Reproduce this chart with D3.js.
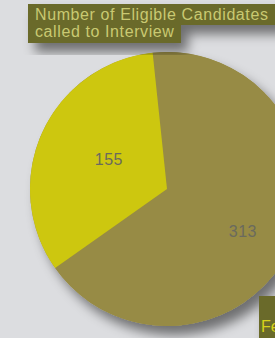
<!DOCTYPE html>
<html>
<head>
<meta charset="utf-8">
<script src="https://cdn.jsdelivr.net/npm/d3@7"></script>
<style>
  body { margin: 0; background: #dcdde0; overflow: hidden; }
  svg { display: block; }
</style>
</head>
<body>
<div id="chart"></div>
<script>
// chart data
var categories = ["Not called", "Called to Interview"];
var values = [313, 155];
var colors = ["#978b45", "#cdc70f"];
var titleLines = ["Number of  Eligible Candidates", "called to Interview"];

var width = 275, height = 338;
var cx = 167, cy = 189, radius = 137;
// where each value label sits, as fraction of radius, plus a small nudge
var labelRadius = [0.64, 0.49];
var labelNudge = [[-4, 6], [3, -1.5]];

var svg = d3.select("#chart").append("svg")
  .attr("width", width)
  .attr("height", height);

var defs = svg.append("defs");
var shadow = defs.append("filter")
  .attr("id", "shadow")
  .attr("x", "-30%").attr("y", "-30%")
  .attr("width", "160%").attr("height", "160%");
shadow.append("feGaussianBlur").attr("in", "SourceAlpha").attr("stdDeviation", 6);
shadow.append("feOffset").attr("dx", 7).attr("dy", 9).attr("result", "off");
shadow.append("feComponentTransfer").append("feFuncA").attr("type", "linear").attr("slope", 0.5);
var merge = shadow.append("feMerge");
merge.append("feMergeNode");
merge.append("feMergeNode").attr("in", "SourceGraphic");

// pie
var pie = d3.pie()
  .sort(null)
  .startAngle(-0.105)
  .endAngle(2 * Math.PI - 0.105);

var arc = d3.arc().innerRadius(0).outerRadius(radius);

var g = svg.append("g")
  .attr("transform", "translate(" + cx + "," + cy + ")");

g.append("circle")
  .attr("r", radius)
  .attr("fill", colors[0])
  .attr("filter", "url(#shadow)");

g.selectAll("path.slice")
  .data(pie(values))
  .enter().append("path")
  .attr("class", "slice")
  .attr("d", arc)
  .attr("fill", function(d, i) { return colors[i]; });

g.selectAll("text.val")
  .data(pie(values))
  .enter().append("text")
  .attr("class", "val")
  .attr("transform", function(d, i) {
    var r = radius * labelRadius[i];
    var c = d3.arc().innerRadius(r).outerRadius(r).centroid(d);
    return "translate(" + (c[0] + labelNudge[i][0]) + "," + (c[1] + labelNudge[i][1]) + ")";
  })
  .attr("text-anchor", "middle")
  .attr("dy", "0.35em")
  .attr("fill", "#6a6a5e")
  .style("font-family", "'Liberation Sans Narrow', 'Liberation Sans', sans-serif")
  .style("font-size", "16px")
  .style("letter-spacing", "0.5px")
  .text(function(d) { return d.data; });

// title boxes
var title = svg.append("g").attr("filter", "url(#shadow)");
title.append("rect")
  .attr("x", 28).attr("y", 4).attr("width", 260).attr("height", 21)
  .attr("fill", "#6b6a2a");
title.append("rect")
  .attr("x", 28).attr("y", 24).attr("width", 153).attr("height", 19)
  .attr("fill", "#6b6a2a");

svg.selectAll("text.title")
  .data(titleLines)
  .enter().append("text")
  .attr("class", "title")
  .attr("x", 35)
  .attr("y", function(d, i) { return 20 + i * 17; })
  .attr("fill", "#c9c972")
  .style("font-family", "'Liberation Sans Narrow', 'Liberation Sans', sans-serif")
  .style("font-size", "16px")
  .style("letter-spacing", "0.6px")
  .text(function(d) { return d; });

// next panel peeking in at bottom right
var next = svg.append("g").attr("filter", "url(#shadow)");
next.append("rect")
  .attr("x", 259).attr("y", 296).attr("width", 40).attr("height", 50)
  .attr("fill", "#6b6a2a");
svg.append("text")
  .attr("x", 261).attr("y", 332)
  .attr("fill", "#d8d21a")
  .style("font-family", "'Liberation Sans Narrow', 'Liberation Sans', sans-serif")
  .style("font-size", "16px")
  .text("Fe");
</script>
</body>
</html>
